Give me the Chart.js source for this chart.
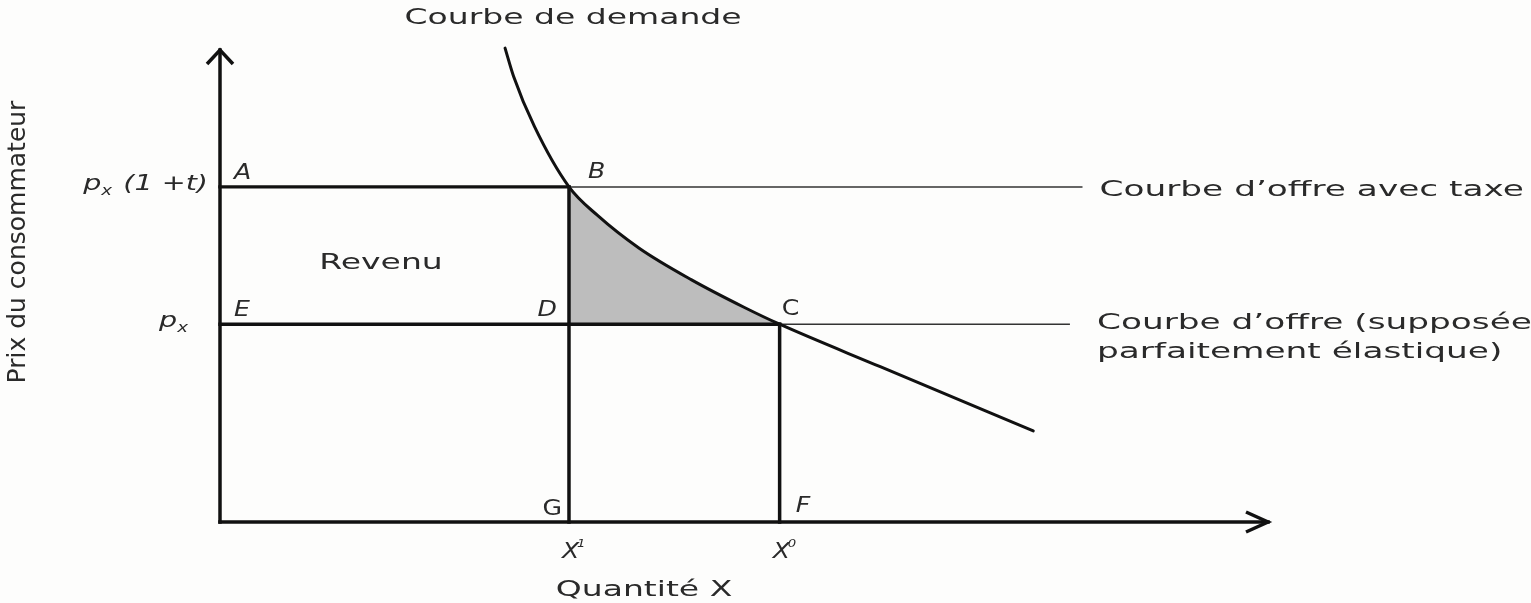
<!DOCTYPE html>
<html lang="fr">
<head>
<meta charset="utf-8">
<title>Courbe de demande et taxe</title>
<script src="https://cdn.jsdelivr.net/npm/chart.js@4.4.1/dist/chart.umd.min.js"></script>
<style>
  html, body { margin: 0; padding: 0; background: #fdfdfc; }
  #wrap { position: relative; width: 1531px; height: 603px; }
</style>
</head>
<body>
<div id="wrap"><canvas id="taxChart"></canvas></div>
<script>
// Demand curve (quantity, consumer price)
const demandQty   = [2.72, 2.80, 3.00, 3.33, 3.60, 4.00, 4.50, 5.00, 5.34, 6.30, 7.35, 7.76];
const demandPrice = [10.04, 9.45, 8.38, 7.10, 6.50, 5.80, 5.13, 4.55, 4.19, 3.29, 2.31, 1.93];

const priceLevels    = [7.10, 4.19];   // p_x(1+t), p_x
const quantityLevels = [3.33, 5.34];   // X1, X0
const supplyLineEnds = [8.23, 8.11];   // where the two supply lines stop
const axisMax        = [10, 10];       // x, y

(function () {
    'use strict';

    const INK = '#111';
    const TEXT = '#2a2a2a';
    const SX = 1.5;                    // the source figure is stretched sideways

    const pTax = priceLevels[0], pFree = priceLevels[1];
    const qTax = quantityLevels[0], qFree = quantityLevels[1];

    const demand = demandQty.map((q, i) => ({ x: q, y: demandPrice[i] }));
    const iB = demandQty.indexOf(qTax);
    const iC = demandQty.indexOf(qFree);

    function seg(x0, y0, x1, y1) {
        return [{ x: x0, y: y0 }, { x: x1, y: y1 }];
    }

    function lineDs(data, width, color, cap) {
        return {
            data, borderColor: color, borderWidth: width, pointRadius: 0,
            fill: false, tension: 0, clip: false, borderCapStyle: cap || 'butt'
        };
    }

    // dataset 0 is drawn last (on top), so the shaded area goes at the end
    const datasets = [
        Object.assign(lineDs(demand, 3, INK, 'round'), { cubicInterpolationMode: 'monotone' }),
        lineDs(seg(0, 0, 0, axisMax[1]), 3.5, INK, 'square'),
        lineDs(seg(0, 0, axisMax[0], 0), 3.5, INK, 'square'),
        lineDs(seg(0, pTax, qTax, pTax), 3.4, INK, 'square'),
        lineDs(seg(0, pFree, qFree, pFree), 3.4, INK, 'square'),
        lineDs(seg(qTax, 0, qTax, pTax), 3.5, INK, 'square'),
        lineDs(seg(qFree, 0, qFree, pFree), 3.5, INK, 'square'),
        lineDs(seg(qTax, pTax, supplyLineEnds[0], pTax), 1.5, '#333'),
        lineDs(seg(qFree, pFree, supplyLineEnds[1], pFree), 1.5, '#333'),
        {
            data: demand.slice(iB, iC + 1),
            cubicInterpolationMode: 'monotone',
            borderWidth: 0, borderColor: 'rgba(0,0,0,0)', pointRadius: 0,
            backgroundColor: '#bdbdbd', fill: { value: pFree }, clip: false
        }
    ];

    function text(ctx, str, px, py, opt) {
        ctx.save();
        ctx.font = opt.font;
        ctx.fillStyle = TEXT;
        ctx.textAlign = opt.align || 'left';
        ctx.textBaseline = opt.baseline || 'alphabetic';
        ctx.translate(px, py);
        ctx.scale(opt.sx || SX, 1);
        if (opt.rotate) ctx.rotate(opt.rotate);
        ctx.fillText(str, 0, 0);
        ctx.restore();
    }

    // italic p with subscript x, then an optional suffix, right aligned
    function priceLabel(ctx, suffix, right, base) {
        const big = 'italic 22px "DejaVu Sans"', small = 'italic 14px "DejaVu Sans"';
        const sx = 1.3;
        ctx.save();
        ctx.font = big;
        const wp = ctx.measureText('p').width * sx;
        const ws = ctx.measureText(suffix).width * sx;
        ctx.font = small;
        const wx = ctx.measureText('x').width * sx;
        ctx.restore();
        let left = right - (wp + wx + 2 + ws);
        text(ctx, 'p', left, base, { font: big, sx });
        text(ctx, 'x', left + wp, base + 5, { font: small, sx });
        if (suffix) text(ctx, suffix, left + wp + wx + 2, base, { font: big, sx });
    }

    const annotations = {
        id: 'annotations',
        afterDatasetsDraw(chart) {
            const { ctx } = chart;
            const xs = chart.scales.x, ys = chart.scales.y;
            const X = v => xs.getPixelForValue(v);
            const Y = v => ys.getPixelForValue(v);
            const f = '22px "DejaVu Sans"';
            const fi = 'italic 21px "DejaVu Sans"';
            const fu = '21px "DejaVu Sans"';
            const lsx = 1.2;

            // arrow heads
            ctx.save();
            ctx.strokeStyle = INK;
            ctx.lineWidth = 3.5;
            ctx.lineJoin = 'miter';
            const tx = X(0), ty = Y(axisMax[1]);
            ctx.beginPath();
            ctx.moveTo(tx - 13, ty + 14); ctx.lineTo(tx, ty); ctx.lineTo(tx + 13, ty + 14);
            ctx.stroke();
            const rx = X(axisMax[0]), ry = Y(0);
            ctx.beginPath();
            ctx.moveTo(rx - 22, ry - 10); ctx.lineTo(rx, ry); ctx.lineTo(rx - 22, ry + 10);
            ctx.stroke();
            ctx.restore();

            text(ctx, 'Courbe de demande', X(demandQty[0]) + 68, Y(axisMax[1]) - 32, { font: f, align: 'center', baseline: 'middle' });

            // point letters
            text(ctx, 'A', X(0) + 14, Y(pTax) - 8, { font: fi, sx: lsx });
            text(ctx, 'B', X(qTax) + 19, Y(pTax) - 9, { font: fi, sx: lsx });
            text(ctx, 'E', X(0) + 14, Y(pFree) - 8, { font: fi, sx: lsx });
            text(ctx, 'D', X(qTax) - 12, Y(pFree) - 8, { font: fi, sx: lsx, align: 'right' });
            text(ctx, 'C', X(qFree) + 2, Y(pFree) - 9, { font: fu, sx: lsx });
            text(ctx, 'G', X(qTax) - 7, Y(0) - 7, { font: fu, sx: lsx, align: 'right' });
            text(ctx, 'F', X(qFree) + 16, Y(0) - 10, { font: fi, sx: lsx });

            // quantity ticks X1, X0
            [[qTax, '1'], [qFree, '0']].forEach(([q, sup]) => {
                text(ctx, 'X', X(q) - 7, Y(0) + 36, { font: 'italic 21px "DejaVu Sans"', sx: 1.2 });
                text(ctx, sup, X(q) + 8, Y(0) + 25, { font: 'italic 11px "DejaVu Sans"', sx: 1.2 });
            });

            // price ticks
            priceLabel(ctx, ' (1 +t)', X(0) - 12, Y(pTax) + 3);
            priceLabel(ctx, '', X(0) - 30, Y(pFree) + 3);

            text(ctx, 'Revenu', X(0) + 161, Y((pTax + pFree) / 2) + 8, { font: f, align: 'center', baseline: 'middle' });

            text(ctx, 'Courbe d\u2019offre avec taxe', X(supplyLineEnds[0]) + 17, Y(pTax) + 3, { font: f, sx: 1.56, baseline: 'middle' });
            text(ctx, 'Courbe d\u2019offre (suppos\u00e9e', X(supplyLineEnds[1]) + 27, Y(pFree) - 1, { font: f, sx: 1.56, baseline: 'middle' });
            text(ctx, 'parfaitement \u00e9lastique)', X(supplyLineEnds[1]) + 27, Y(pFree) + 28, { font: f, sx: 1.56, baseline: 'middle' });

            text(ctx, 'Quantit\u00e9 X', X(0) + 424, Y(0) + 68, { font: f, align: 'center', baseline: 'middle' });
            text(ctx, 'Prix du consommateur', X(0) - 202, Y(axisMax[1] / 2) - 44,
                { font: '25px "DejaVu Sans"', align: 'center', baseline: 'middle', sx: 1.0, rotate: -Math.PI / 2 });
        }
    };

    function init() {
        const ctx = document.getElementById('taxChart').getContext('2d');
        new Chart(ctx, {
            type: 'line',
            data: { datasets },
            options: {
                responsive: true,
                maintainAspectRatio: false,
                animation: false,
                events: [],
                layout: { padding: { left: 220, right: 263, top: 50, bottom: 81 } },
                plugins: { legend: { display: false }, tooltip: { enabled: false } },
                scales: {
                    x: { type: 'linear', min: 0, max: axisMax[0], display: false },
                    y: { type: 'linear', min: 0, max: axisMax[1], display: false }
                }
            },
            plugins: [annotations]
        });
    }

    if (document.readyState === 'loading') {
        document.addEventListener('DOMContentLoaded', init);
    } else {
        init();
    }
})();
</script>
</body>
</html>
